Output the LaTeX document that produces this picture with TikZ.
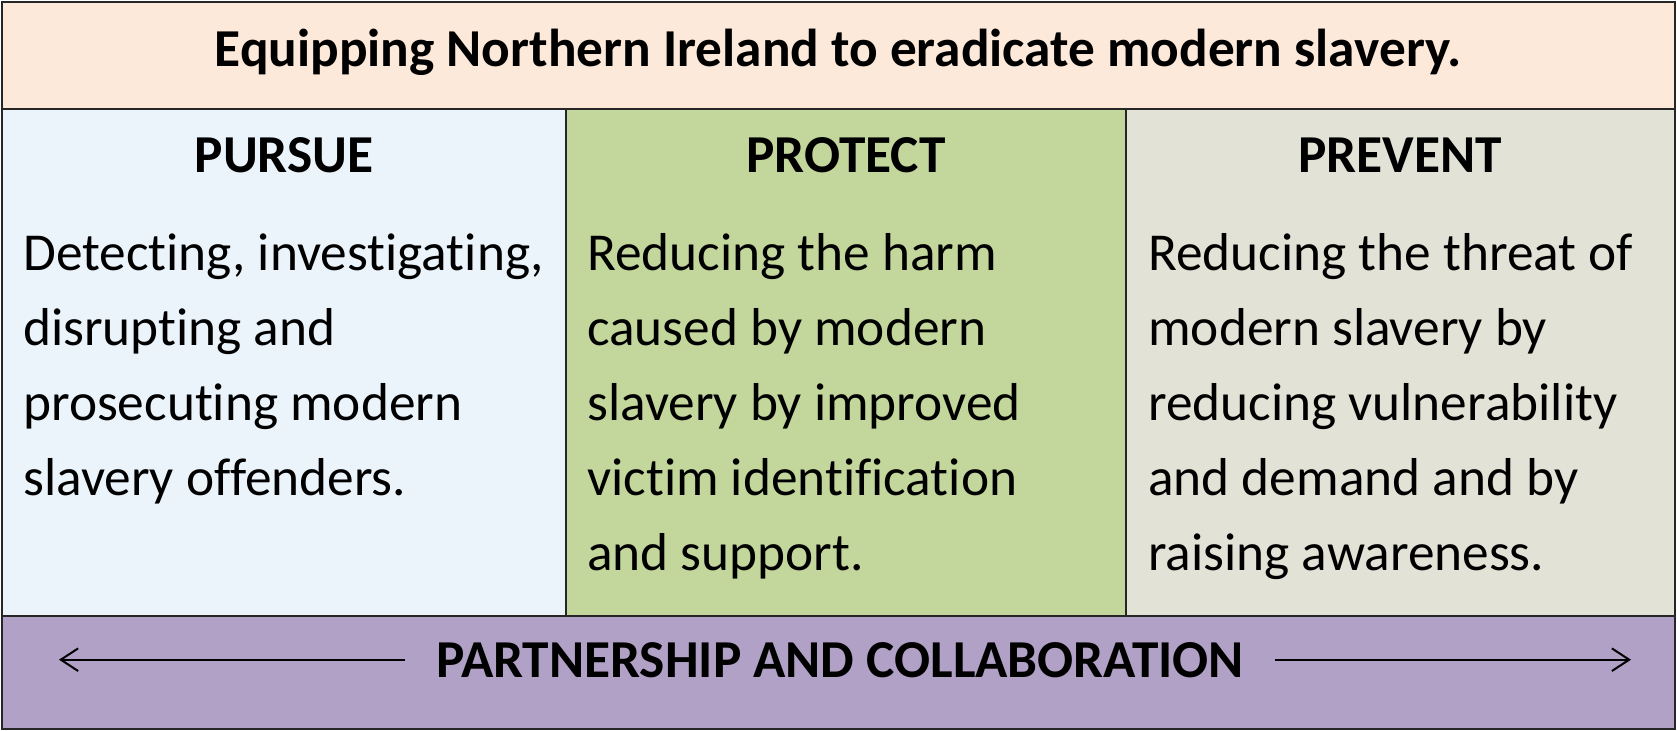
\documentclass[tikz,border=0pt]{standalone}
\usepackage{fontspec}
\setmainfont{Carlito}[Ligatures=NoCommon]
\usetikzlibrary{arrows.meta}

\begin{document}
\begin{tikzpicture}[x=0.75pt,y=0.75pt,yscale=-1,xscale=1,
  box/.style={draw={rgb, 255:red, 38; green, 38; blue, 38 }, line width=1.5pt},
  head/.style={font=\bfseries\fontsize{40}{48}\selectfont, inner sep=0pt, anchor=base},
  body/.style={font=\fontsize{40}{56.25}\selectfont, inner sep=0pt, anchor=base west, align=left},
  arr/.style={-{Straight Barb[length=13pt,width=17pt]}, line width=1.5pt}]
\useasboundingbox (0,0) rectangle (1677,731);

%Shape: Rectangle (title band)
\draw  [box, fill={rgb, 255:red, 253; green, 233; blue, 217 }  ,fill opacity=1 ] (2,2) -- (1675,2) -- (1675,109) -- (2,109) -- cycle ;
%Shape: Rectangle (pursue)
\draw  [box, fill={rgb, 255:red, 235; green, 243; blue, 251 }  ,fill opacity=1 ] (2,109) -- (566,109) -- (566,616) -- (2,616) -- cycle ;
%Shape: Rectangle (protect)
\draw  [box, fill={rgb, 255:red, 195; green, 214; blue, 155 }  ,fill opacity=1 ] (566,109) -- (1126,109) -- (1126,616) -- (566,616) -- cycle ;
%Shape: Rectangle (prevent)
\draw  [box, fill={rgb, 255:red, 227; green, 226; blue, 214 }  ,fill opacity=1 ] (1126,109) -- (1675,109) -- (1675,616) -- (1126,616) -- cycle ;
%Shape: Rectangle (partnership band)
\draw  [box, fill={rgb, 255:red, 178; green, 161; blue, 199 }  ,fill opacity=1 ] (2,616) -- (1675,616) -- (1675,729) -- (2,729) -- cycle ;

% Text Node
\draw (838,67) node [head] (title) {Equipping Northern Ireland to eradicate modern slavery.};
% Text Node
\draw (284,172) node [head] (pursue) {PURSUE};
% Text Node
\draw (846,172) node [head] (protect) {PROTECT};
% Text Node
\draw (1400,172) node [head] (prevent) {PREVENT};
% Text Node (base = last line)
\draw (23,495) node [body] (pursuetxt) {Detecting, investigating,\\disrupting and\\prosecuting modern\\slavery offenders.};
% Text Node
\draw (587,570) node [body] (protecttxt) {Reducing the harm\\caused by modern\\slavery by improved\\victim identification\\and support.};
% Text Node
\draw (1148,570) node [body] (preventtxt) {Reducing the threat of\\modern slavery by\\reducing vulnerability\\and demand and by\\raising awareness.};
% Text Node
\draw (840,677) node [head, inner xsep=23pt] (partner) {PARTNERSHIP AND COLLABORATION};

\coordinate (lefttip) at (59,661);
\coordinate (righttip) at (1631,661);
\draw [arr] (partner.west) -- (partner.west -| lefttip);
\draw [arr] (partner.east) -- (partner.east -| righttip);

\end{tikzpicture}
\end{document}
